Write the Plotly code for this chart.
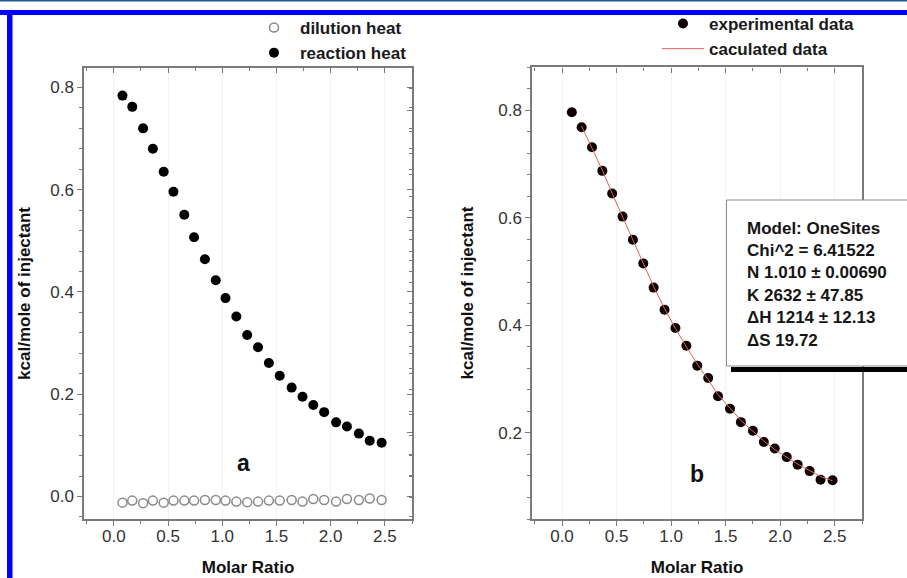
import plotly.graph_objects as go

W, H = 907, 578

# ---------------- data ----------------
molar_ratio_a = [0.08, 0.17, 0.27, 0.36, 0.46, 0.55, 0.65, 0.74, 0.84, 0.94, 1.03, 1.13, 1.23,
                 1.33, 1.43, 1.53, 1.64, 1.74, 1.84, 1.94, 2.05, 2.15, 2.26, 2.36, 2.47]
reaction_heat = [0.784, 0.762, 0.720, 0.680, 0.635, 0.596, 0.551, 0.507, 0.464, 0.423, 0.388,
                 0.352, 0.316, 0.292, 0.261, 0.236, 0.213, 0.195, 0.179, 0.165, 0.145, 0.137,
                 0.123, 0.109, 0.105]
dilution_heat = [-0.012, -0.008, -0.013, -0.008, -0.012, -0.008, -0.008, -0.008, -0.007, -0.007,
                 -0.008, -0.010, -0.011, -0.010, -0.008, -0.008, -0.007, -0.010, -0.005, -0.007,
                 -0.010, -0.005, -0.007, -0.004, -0.007]

molar_ratio_b = [0.09, 0.18, 0.275, 0.37, 0.46, 0.555, 0.65, 0.745, 0.84, 0.94, 1.04, 1.14, 1.24,
                 1.34, 1.43, 1.54, 1.64, 1.75, 1.85, 1.95, 2.06, 2.16, 2.27, 2.37, 2.48]
experimental = [0.796, 0.768, 0.731, 0.687, 0.645, 0.602, 0.559, 0.515, 0.470, 0.429, 0.395,
                0.362, 0.325, 0.302, 0.268, 0.245, 0.220, 0.204, 0.183, 0.171, 0.155, 0.141,
                0.129, 0.113, 0.112]
calc_x = molar_ratio_b[1:]
calculated = [0.770, 0.730, 0.688, 0.645, 0.602, 0.558, 0.515, 0.472, 0.431, 0.394, 0.360,
              0.328, 0.299, 0.271, 0.246, 0.223, 0.203, 0.185, 0.169, 0.155, 0.142, 0.130,
              0.119, 0.111]

x_ticks = [0.0, 0.5, 1.0, 1.5, 2.0, 2.5]
fit_lines = ["Model: OneSites", "Chi^2 = 6.41522", "N 1.010 \u00b1 0.00690",
             "K 2632 \u00b1 47.85", "\u0394H 1214 \u00b1 12.13", "\u0394S 19.72"]


def px(v):
    return v / W


def py(v):
    return 1 - v / H


FONT = "Liberation Sans, Arial, sans-serif"
AX = "#7a7a7a"

fig = go.Figure()

# panel a
fig.add_trace(go.Scatter(x=molar_ratio_a, y=dilution_heat, mode="markers", name="dilution heat",
                         marker=dict(symbol="circle-open", size=9, color="#8a8a8a",
                                     line=dict(width=1.5, color="#8a8a8a")),
                         xaxis="x", yaxis="y", legend="legend"))
fig.add_trace(go.Scatter(x=molar_ratio_a, y=reaction_heat, mode="markers", name="reaction heat",
                         marker=dict(symbol="circle", size=10, color="#000000"),
                         xaxis="x", yaxis="y", legend="legend"))
# panel b
fig.add_trace(go.Scatter(x=molar_ratio_b, y=experimental, mode="markers", name="experimental data",
                         marker=dict(symbol="circle", size=10, color="#0d0000"),
                         xaxis="x2", yaxis="y2", legend="legend2"))
fig.add_trace(go.Scatter(x=calc_x, y=calculated, mode="lines", name="caculated data",
                         line=dict(color="#e06060", width=1),
                         xaxis="x2", yaxis="y2", legend="legend2"))

dom_xa = [px(84), px(412)]
dom_ya = [py(519), py(68)]
dom_xb = [px(532), px(862)]
dom_yb = [py(519), py(67)]
xr = [-0.275, 2.75]
yra = [-0.044, 0.838]
yrb = [0.040, 0.880]

tickfont = dict(family=FONT, size=17, color="#333333")
titlefont = dict(family=FONT, size=17, color="#111111", weight="bold")


def xaxis(dom, anchor):
    return dict(domain=dom, anchor=anchor, range=xr, tickmode="array", tickvals=x_ticks,
                ticktext=[f"{v:.1f}" for v in x_ticks], ticks="outside", ticklen=5,
                tickwidth=1.2, tickcolor=AX, showline=True, linecolor=AX, linewidth=1.5,
                mirror=True, showgrid=True, gridcolor="#e9f5f7", gridwidth=1, zeroline=False,
                tickfont=tickfont, ticklabelstandoff=-4,
                minor=dict(dtick=0.25, tick0=0, ticks="outside", ticklen=3,
                           tickcolor=AX, showgrid=False),
                title=dict(text="Molar Ratio", font=titlefont, standoff=16))


def yaxis(dom, anchor, rng, title_standoff):
    return dict(domain=dom, anchor=anchor, range=rng, dtick=0.2, tick0=0, tickformat=".1f",
                ticks="outside", ticklen=5, tickwidth=1.2, tickcolor=AX, showline=True,
                linecolor=AX, linewidth=1.5, mirror=True, showgrid=False, zeroline=False,
                tickfont=tickfont, minor=dict(dtick=0.04, tick0=0, ticks="outside", ticklen=3,
                                              tickcolor=AX),
                title=dict(text="kcal/mole of injectant", font=titlefont, standoff=title_standoff))


def top_axis(dom, over):
    return dict(domain=dom, overlaying=over, side="top", range=xr, tickmode="array",
                tickvals=x_ticks, ticks="inside", ticklen=5, tickwidth=1.2, tickcolor=AX,
                showticklabels=False, showline=False, showgrid=False, zeroline=False,
                minor=dict(dtick=0.25, tick0=0, ticks="inside", ticklen=3, tickcolor=AX))


def right_axis(dom, over, rng):
    return dict(domain=dom, overlaying=over, side="right", range=rng, dtick=0.2, tick0=0,
                ticks="inside", ticklen=5, tickwidth=1.2, tickcolor=AX, showticklabels=False,
                showline=False, showgrid=False, zeroline=False,
                minor=dict(dtick=0.04, tick0=0, ticks="inside", ticklen=3, tickcolor=AX))


# empty traces so the mirrored (inward-tick) overlay axes render
for xa, ya in [("x3", "y"), ("x4", "y2"), ("x", "y3"), ("x2", "y4")]:
    fig.add_trace(go.Scatter(x=[None], y=[None], xaxis=xa, yaxis=ya, showlegend=False,
                             hoverinfo="skip"))

legfont = dict(family=FONT, size=17, color="#1a1a1a", weight="bold")

shapes = [
    # thin dark line on the very top
    dict(type="rect", xref="paper", yref="paper", x0=0, x1=1, y0=py(1.5), y1=1,
         fillcolor="#1d5b98", line=dict(width=0), layer="above"),
    # blue frame (top + left)
    dict(type="rect", xref="paper", yref="paper", x0=0, x1=1, y0=py(15), y1=py(10),
         fillcolor="#0000ff", line=dict(width=0), layer="above"),
    dict(type="rect", xref="paper", yref="paper", x0=px(7), x1=px(12.5), y0=0, y1=py(10),
         fillcolor="#0000ff", line=dict(width=0), layer="above"),
    # text box shadow + box
    dict(type="rect", xref="paper", yref="paper", x0=px(731), x1=px(915), y0=py(372), y1=py(367),
         fillcolor="#000000", line=dict(width=0), layer="above"),
    dict(type="rect", xref="paper", yref="paper", x0=px(726.5), x1=px(915), y0=py(366), y1=py(200),
         fillcolor="#ffffff", line=dict(width=1, color="#8c8c8c"), layer="above"),
]

annotations = [
    dict(text="a", x=px(243), y=py(463), xref="paper", yref="paper", showarrow=False,
         xanchor="center", yanchor="middle",
         font=dict(family=FONT, size=23, color="#111111", weight="bold")),
    dict(text="b", x=px(697), y=py(474), xref="paper", yref="paper", showarrow=False,
         xanchor="center", yanchor="middle",
         font=dict(family=FONT, size=23, color="#111111", weight="bold")),
]
for i, line in enumerate(fit_lines):
    annotations.append(dict(text=line, x=px(745), y=py(228 + i * 22.4), xref="paper",
                            yref="paper", xanchor="left", yanchor="middle", showarrow=False,
                            font=dict(family=FONT, size=17, color="#151515", weight="bold")))

fig.update_layout(
    width=W, height=H, margin=dict(l=0, r=0, t=0, b=0),
    paper_bgcolor="#ffffff", plot_bgcolor="#ffffff",
    xaxis=xaxis(dom_xa, "y"), yaxis=yaxis(dom_ya, "x", yra, 15),
    xaxis2=xaxis(dom_xb, "y2"), yaxis2=yaxis(dom_yb, "x2", yrb, 20),
    xaxis3=top_axis(dom_xa, "x"), xaxis4=top_axis(dom_xb, "x2"),
    yaxis3=right_axis(dom_ya, "y", yra), yaxis4=right_axis(dom_yb, "y2", yrb),
    legend=dict(x=px(248), y=py(10), xanchor="left", yanchor="top", font=legfont,
                bgcolor="rgba(0,0,0,0)", tracegroupgap=0, itemwidth=42),
    legend2=dict(x=px(657), y=py(6), xanchor="left", yanchor="top", font=legfont,
                 bgcolor="rgba(0,0,0,0)", tracegroupgap=0, itemwidth=42),
    shapes=shapes, annotations=annotations, showlegend=True,
)

fig.write_html("out.html", config={"displayModeBar": False},
               post_script="document.body.style.margin='0';")
